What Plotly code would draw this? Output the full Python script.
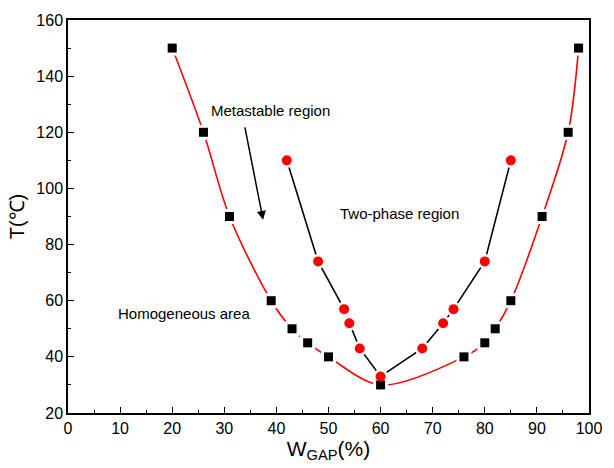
import plotly.graph_objects as go

# Binodal (black squares, red smooth curve)
bin_x = [20, 26, 31, 39, 43, 46, 50, 60, 76, 80, 82, 85, 91, 96, 98]
bin_y = [150, 120, 90, 60, 50, 45, 40, 30, 40, 45, 50, 60, 90, 120, 150]
# Spinodal (red circles, black straight lines)
spin_x = [42, 48, 53, 54, 56, 60, 68, 72, 74, 80, 85]
spin_y = [110, 74, 57, 52, 43, 33, 43, 52, 57, 74, 110]

x_ticks = list(range(0, 101, 10))
y_ticks = list(range(20, 161, 20))

FONT = "Liberation Sans, Arial, sans-serif"

fig = go.Figure()
fig.add_trace(go.Scatter(x=bin_x, y=bin_y, mode="lines",
                         line=dict(color="red", width=1.6, shape="spline", smoothing=0.9),
                         hoverinfo="skip"))
fig.add_trace(go.Scatter(x=spin_x, y=spin_y, mode="lines",
                         line=dict(color="black", width=1.6), hoverinfo="skip"))
# white masks to create gaps around markers
fig.add_trace(go.Scatter(x=bin_x, y=bin_y, mode="markers",
                         marker=dict(symbol="square", size=15, color="white"), hoverinfo="skip"))
fig.add_trace(go.Scatter(x=spin_x, y=spin_y, mode="markers",
                         marker=dict(symbol="circle", size=15, color="white"), hoverinfo="skip"))
fig.add_trace(go.Scatter(x=bin_x, y=bin_y, mode="markers",
                         marker=dict(symbol="square", size=9, color="black")))
fig.add_trace(go.Scatter(x=spin_x, y=spin_y, mode="markers",
                         marker=dict(symbol="circle", size=10, color="red")))

axis_common = dict(showgrid=False, zeroline=False, showline=True, linecolor="black",
                   linewidth=1.5, mirror=True, ticks="inside", ticklen=6, tickwidth=1.3,
                   tickcolor="black", tickfont=dict(family=FONT, size=16, color="black"))

fig.update_xaxes(range=[0, 100], tickvals=x_ticks,
                 minor=dict(dtick=5, ticks="inside", ticklen=3, tickwidth=1.2, tickcolor="black"),
                 title=dict(text="W<sub>GAP</sub>(%)", font=dict(family=FONT, size=21, color="black"),
                            standoff=4),
                 **axis_common)
fig.update_yaxes(range=[20, 160], tickvals=y_ticks,
                 minor=dict(dtick=10, ticks="inside", ticklen=3, tickwidth=1.2, tickcolor="black"),
                 title=dict(text="T(℃)", font=dict(family=FONT, size=20, color="black"),
                            standoff=6),
                 **axis_common)

tfont = dict(family=FONT, size=15, color="black")
fig.add_annotation(x=27, y=127.9, text="Metastable region", showarrow=False,
                   xanchor="left", yanchor="middle", font=tfont)
fig.add_annotation(x=51.9, y=90.9, text="Two-phase region", showarrow=False,
                   xanchor="left", yanchor="middle", font=tfont)
fig.add_annotation(x=9.2, y=55.3, text="Homogeneous area", showarrow=False,
                   xanchor="left", yanchor="middle", font=tfont)
fig.add_annotation(x=37.45, y=88.8, ax=33.9, ay=122.3, axref="x", ayref="y",
                   text="", showarrow=True, arrowhead=2, arrowsize=1.2,
                   arrowwidth=1.5, arrowcolor="black")

fig.update_layout(width=614, height=468, showlegend=False,
                  plot_bgcolor="white", paper_bgcolor="white",
                  margin=dict(l=68, r=12, t=16, b=55))

fig.write_html("out.html")
